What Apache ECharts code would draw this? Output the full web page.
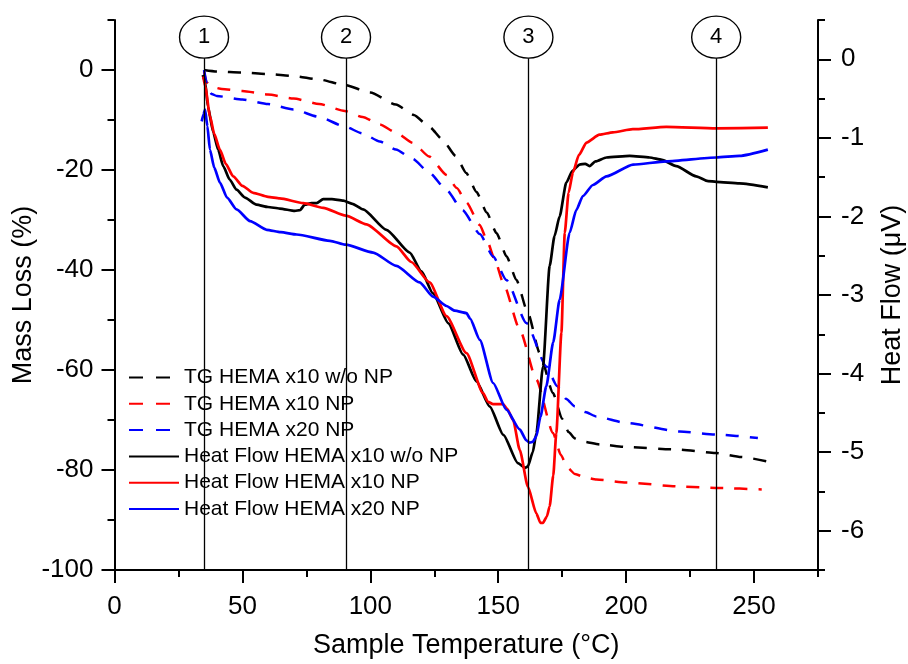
<!DOCTYPE html>
<html>
<head>
<meta charset="utf-8">
<script src="https://cdn.jsdelivr.net/npm/echarts@6/dist/echarts.min.js"></script>
<style>
html,body{margin:0;padding:0;background:#fff;}
#chart{width:908px;height:664px;}
</style>
</head>
<body>
<div id="chart"></div>
<script>
// ---- Data (temperature in °C, mass loss in %, heat flow in µV) ----
const xMajorTicks = [0, 50, 100, 150, 200, 250];
const xMinorTicks = [25, 75, 125, 175, 225, 275];
const leftMajorTicks = [0, -20, -40, -60, -80, -100];
const leftMinorTicks = [10, -10, -30, -50, -70, -90];
const rightMajorTicks = [0, -1, -2, -3, -4, -5, -6];
const rightMinorTicks = [0.5, -0.5, -1.5, -2.5, -3.5, -4.5, -5.5, -6.5];

const seriesNames = [
  'TG HEMA x10 w/o NP',
  'TG HEMA x10 NP',
  'TG HEMA x20 NP',
  'Heat Flow HEMA x10 w/o NP',
  'Heat Flow HEMA x10 NP',
  'Heat Flow HEMA x20 NP'
];

const tgBlack = [[35,0],[40,-0.3],[50,-0.5],[60,-0.8],[70,-1.2],[80,-1.9],[90,-3.0],[100,-4.5],[110,-6.9],[117,-9.0],[123.2,-11.4],[128,-13.8],[133.4,-17.2],[137.5,-20.6],[141.5,-24.4],[145.5,-28.5],[149.3,-32.6],[153.3,-37.3],[157.1,-42.0],[161.6,-48.6],[166.2,-56.6],[171.4,-64.6],[175,-69.8],[177.5,-72.4],[180,-73.7],[183,-74.3],[190,-74.9],[200,-75.4],[220,-75.9],[235,-76.6],[245,-77.4],[255.4,-78.3]];
const tgRed = [[35,-0.3],[36,-2.5],[38,-3.4],[42,-3.8],[50,-4.2],[60,-4.9],[70,-5.7],[80,-6.8],[90,-8.2],[97,-9.4],[103.7,-10.9],[110,-12.5],[116.7,-14.6],[123,-17.3],[129.8,-21.0],[133.8,-23.6],[137.6,-26.5],[142.8,-31.0],[145.4,-33.8],[148.7,-38.0],[151.9,-42.5],[158.4,-51.9],[164.9,-61.9],[171.4,-72.6],[174.5,-77.0],[177,-79.5],[180,-80.8],[184,-81.5],[188.4,-81.9],[200,-82.5],[220.9,-83.3],[236.5,-83.6],[253,-83.9]];
const tgBlue = [[35,0],[36.5,-3.5],[38,-4.8],[40,-5.2],[50,-5.9],[60,-6.8],[70,-7.9],[80,-9.4],[90,-11.3],[97,-12.7],[103.7,-14.3],[110,-15.9],[116.6,-17.8],[123,-20.5],[129.8,-24.0],[136,-28.0],[142.8,-32.8],[148,-37.3],[153.2,-42.0],[161,-50.6],[168.8,-59.3],[173,-63.2],[176.6,-65.8],[180,-67.3],[184,-68.4],[188.4,-69.3],[200,-70.6],[220.9,-72.3],[235.2,-72.9],[251.5,-73.6]];

const hfBlack = [[34.5,-0.2],[35.4,-0.28],[36.5,-0.6],[38.6,-0.93],[40.5,-1.15],[42.5,-1.36],[45,-1.53],[47.7,-1.66],[51,-1.76],[55.5,-1.85],[60,-1.88],[64.6,-1.9],[70.5,-1.93],[72.5,-1.92],[74.4,-1.85],[77,-1.83],[79,-1.83],[81.6,-1.78],[85,-1.78],[89.4,-1.8],[93,-1.84],[97.2,-1.91],[106.3,-2.17],[115.4,-2.46],[120,-2.7],[124.5,-2.98],[130.5,-3.36],[136.3,-3.76],[141.5,-4.1],[146.7,-4.42],[152,-4.78],[157.7,-5.14],[160.5,-5.2],[161.6,-5.18],[163.5,-5.0],[164.9,-4.76],[167.5,-3.91],[170.1,-2.63],[172,-2.25],[174,-2.0],[176.6,-1.57],[179,-1.42],[181.8,-1.34],[184,-1.33],[185.7,-1.36],[188,-1.3],[192.3,-1.25],[201.4,-1.23],[209.2,-1.25],[214,-1.28],[219.6,-1.36],[227.4,-1.49],[232,-1.55],[235.2,-1.56],[244.3,-1.58],[255.4,-1.63]];
const hfRed = [[34.7,-0.22],[35.5,-0.35],[37.3,-0.72],[39,-0.95],[41.2,-1.15],[43.5,-1.33],[46.4,-1.49],[50,-1.61],[54.2,-1.7],[60,-1.75],[64.6,-1.77],[73.8,-1.83],[81.6,-1.89],[90.4,-1.99],[98.5,-2.1],[110.2,-2.38],[116,-2.58],[123.2,-2.84],[129.8,-3.27],[137.6,-3.74],[144.1,-4.25],[146,-4.36],[148,-4.39],[151.9,-4.39],[153.5,-4.45],[155.8,-4.59],[158.4,-4.97],[161.6,-5.44],[164.9,-5.78],[166.5,-5.9],[167.5,-5.9],[169,-5.82],[170.1,-5.69],[171.5,-5.3],[172.7,-4.76],[174.7,-3.48],[176,-2.21],[177.5,-1.7],[179.2,-1.44],[181.5,-1.22],[184.5,-1.06],[189.6,-0.96],[194.8,-0.93],[202.6,-0.89],[215.7,-0.86],[235.2,-0.88],[255.4,-0.87]];
const hfBlue = [[34.1,-0.79],[34.8,-0.7],[35.4,-0.64],[36.3,-0.85],[37.3,-1.15],[39,-1.38],[41.2,-1.57],[44,-1.76],[47.7,-1.91],[53,-2.06],[59.5,-2.17],[65,-2.2],[71.2,-2.23],[84.2,-2.31],[90.4,-2.36],[101.1,-2.46],[110.2,-2.63],[119.3,-2.84],[124.5,-3.02],[129.8,-3.14],[133,-3.2],[137.6,-3.23],[139,-3.3],[142.8,-3.57],[148,-4.12],[153.2,-4.46],[158.4,-4.71],[161,-4.85],[162.3,-4.88],[163.5,-4.87],[164.9,-4.8],[166.5,-4.55],[168.8,-4.16],[171.5,-3.6],[174,-3.06],[177.9,-2.21],[180.5,-1.92],[183.1,-1.74],[187,-1.6],[192.3,-1.49],[202.7,-1.34],[215.7,-1.3],[235.2,-1.25],[244.3,-1.23],[255.4,-1.15]];

// event markers (temperatures of the numbered stages)
const eventTemps = [35, 90.5, 161.8, 235.2];
const eventLabels = ['1', '2', '3', '4'];
const eventCircleY = 6.56;   // centre of label circles (left-axis units)
const eventLineTop = 2.4;    // top of the vertical lines (left-axis units)

// ---- Chart ----
const FONT = '"Liberation Sans", Arial, sans-serif';
const chart = echarts.init(document.getElementById('chart'), null, {renderer: 'canvas'});

const axisLineStyle = {color: '#000', width: 2};
const tickLabelStyle = {color: '#000', fontSize: 26, fontFamily: FONT};
const nameStyle = {color: '#000', fontSize: 27, fontFamily: FONT};

function tgSeries(name, data, color) {
  return {
    name, type: 'line', data, xAxisIndex: 0, yAxisIndex: 0,
    symbol: 'none', smooth: 0.2, smoothMonotone: 'x',
    lineStyle: {color, width: 2.5, type: [13, 11]},
    itemStyle: {color}, z: 3
  };
}
function hfSeries(name, data, color) {
  return {
    name, type: 'line', data, xAxisIndex: 0, yAxisIndex: 1,
    symbol: 'none', smooth: 0.2, smoothMonotone: 'x',
    lineStyle: {color, width: 2.7},
    itemStyle: {color}, z: 4
  };
}

const option = {
  backgroundColor: '#fff',
  animation: false,
  grid: {left: 114.5, right: 90, top: 20, bottom: 94, containLabel: false, outerBoundsMode: 'none'},
  legend: {
    orient: 'vertical', left: 128, top: 367, padding: 0,
    itemWidth: 50, itemHeight: 14, itemGap: 5.3, itemTextGap: 5,
    textStyle: {color: '#000', fontSize: 21, fontFamily: FONT},
    itemStyle: {color: 'rgba(0,0,0,0)', borderWidth: 0, opacity: 0},
    data: seriesNames.map((n, i) => i < 3 ? {name: n, lineStyle: {type: [14, 13]}} : {name: n})
  },
  xAxis: [
    {
      type: 'value', position: 'bottom', min: 0, max: 275, interval: 25,
      axisLine: {show: true, onZero: false, lineStyle: axisLineStyle},
      axisTick: {show: true, inside: false, length: 13, lineStyle: {color: '#000', width: 2}, customValues: xMajorTicks},
      axisLabel: {show: true, margin: 24, customValues: xMajorTicks, ...tickLabelStyle},
      splitLine: {show: false},
      name: 'Sample Temperature (°C)', nameLocation: 'middle', nameGap: 62, nameTextStyle: nameStyle,
      nameMoveOverlap: false
    },
    {
      type: 'value', position: 'bottom', min: 0, max: 275, interval: 25,
      axisLine: {show: false, onZero: false},
      axisTick: {show: true, inside: false, length: 7, lineStyle: {color: '#000', width: 2}, customValues: xMinorTicks},
      axisLabel: {show: false},
      splitLine: {show: false}
    }
  ],
  yAxis: [
    {
      type: 'value', position: 'left', min: -100, max: 10, interval: 10,
      axisLine: {show: true, onZero: false, lineStyle: axisLineStyle},
      axisTick: {show: true, inside: false, length: 13, lineStyle: {color: '#000', width: 2}, customValues: leftMajorTicks},
      axisLabel: {show: true, margin: 21, customValues: leftMajorTicks, ...tickLabelStyle},
      splitLine: {show: false},
      name: 'Mass Loss (%)', nameLocation: 'middle', nameRotate: 90, nameGap: 77, nameTextStyle: nameStyle,
      nameMoveOverlap: false
    },
    {
      type: 'value', position: 'right', min: -6.5, max: 0.5, interval: 0.5,
      axisLine: {show: true, onZero: false, lineStyle: axisLineStyle},
      axisTick: {show: true, inside: false, length: 13, lineStyle: {color: '#000', width: 2}, customValues: rightMajorTicks},
      axisLabel: {show: true, margin: 23, customValues: rightMajorTicks, ...tickLabelStyle},
      splitLine: {show: false},
      name: 'Heat Flow (μV)', nameLocation: 'middle', nameRotate: 90, nameGap: 61, nameTextStyle: nameStyle,
      nameMoveOverlap: false
    },
    {
      type: 'value', position: 'left', min: -100, max: 10, interval: 10,
      axisLine: {show: false, onZero: false},
      axisTick: {show: true, inside: false, length: 7, lineStyle: {color: '#000', width: 2}, customValues: leftMinorTicks},
      axisLabel: {show: false}, splitLine: {show: false}
    },
    {
      type: 'value', position: 'right', min: -6.5, max: 0.5, interval: 0.5,
      axisLine: {show: false, onZero: false},
      axisTick: {show: true, inside: false, length: 7, lineStyle: {color: '#000', width: 2}, customValues: rightMinorTicks},
      axisLabel: {show: false}, splitLine: {show: false}
    }
  ],
  series: [
    tgSeries(seriesNames[0], tgBlack, '#000000'),
    tgSeries(seriesNames[1], tgRed, '#ff0000'),
    tgSeries(seriesNames[2], tgBlue, '#0000ff'),
    hfSeries(seriesNames[3], hfBlack, '#000000'),
    hfSeries(seriesNames[4], hfRed, '#ff0000'),
    hfSeries(seriesNames[5], hfBlue, '#0000ff'),
    {
      name: 'events', type: 'line', data: [], xAxisIndex: 0, yAxisIndex: 0,
      symbol: 'none', silent: true, z: 2,
      markLine: {
        silent: true, symbol: ['none', 'none'], animation: false,
        label: {show: false},
        lineStyle: {color: '#000', width: 1.3, type: 'solid'},
        emphasis: {disabled: true},
        data: eventTemps.map(t => [{coord: [t, eventLineTop]}, {coord: [t, -100]}])
      },
      markPoint: {
        silent: true, animation: false,
        symbol: 'circle', symbolSize: [49, 42],
        itemStyle: {color: '#fff', borderColor: '#000', borderWidth: 1.3},
        label: {show: true, position: 'inside', formatter: p => p.name, color: '#000', fontSize: 22, fontFamily: FONT},
        emphasis: {disabled: true},
        data: eventTemps.map((t, i) => ({name: eventLabels[i], coord: [t, eventCircleY]}))
      }
    }
  ]
};
chart.setOption(option);
</script>
</body>
</html>
